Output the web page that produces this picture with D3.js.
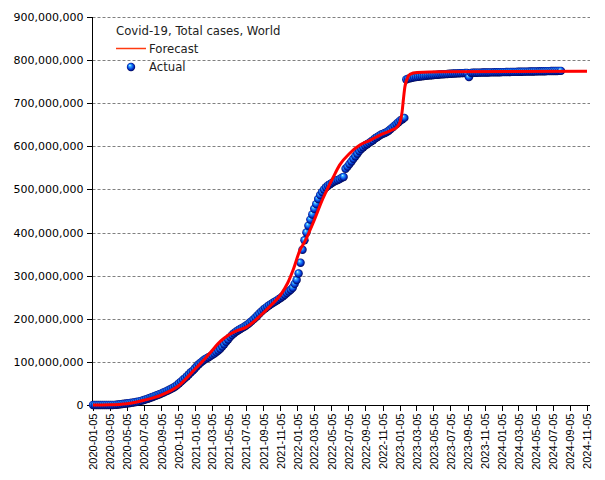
<!DOCTYPE html>
<html>
<head>
<meta charset="utf-8">
<script src="https://cdn.jsdelivr.net/npm/d3@7"></script>
<style>
  body { margin: 0; background: #fff; }
  svg { display: block; }
</style>
</head>
<body>
<svg id="chart" width="605" height="480"></svg>
<script>
// ---------------------------------------------
// Data (values in millions of cases)
// ---------------------------------------------

let chartTitle = 'Covid-19, Total cases, World';
let seriesNames = ['Forecast', 'Actual'];

// Weekly reported totals, one value per week starting 2020-01-05
let actualStart = '2020-01-05';
let actualTotals = [
  // 2020
  0, 0, 0.001, 0.002, 0.015, 0.04, 0.07, 0.078, 0.088, 0.11, 0.17, 0.34, 0.72,
  1.27, 1.85, 2.4, 2.97, 3.5, 4.1, 4.7, 5.4, 6.2, 7.0, 7.9, 9.0, 10.2,
  11.5, 13.0, 14.6, 16.3, 18.0, 19.8, 21.6, 23.3, 25.1, 27.0, 29.0, 31.0, 33.2,
  35.3, 37.6, 40.1, 43.0, 46.4, 50.3, 54.3, 58.4, 62.4, 66.8, 71.2, 75.8, 79.7,
  // 2021
  84.5, 89.7, 94.4, 98.4, 102.1, 105.4, 108.2, 110.8, 113.4, 116.2, 119.2, 122.6, 126.4,
  130.6, 135.6, 140.9, 146.6, 152.1, 157.5, 162.2, 166.3, 169.9, 172.9, 175.9, 178.4, 181.1,
  183.9, 187.0, 190.7, 194.6, 198.7, 203.1, 207.7, 212.2, 216.7, 220.8, 224.6, 228.1, 231.3,
  234.2, 237.1, 239.9, 242.8, 245.8, 248.9, 252.2, 255.8, 259.6, 263.5, 267.5, 271.8, 281,
  // 2022
  290, 305, 330, 360, 382, 400, 416, 430, 442, 455, 466, 478, 487,
  494, 500, 505, 509, 512, 515, 518, 520, 522, 524, 527, 529, 548,
  553, 559, 565, 571, 577, 583, 589, 594, 598, 602, 605, 608, 611,
  614, 618, 621, 624, 627, 629, 631, 633, 636, 640, 644, 648, 652,
  // 2023
  656, 660, 663, 666, 755, 757, 758, 759, 760, 760.6, 761.2, 761.8, 762.4,
  763, 763.5, 764, 764.5, 765, 765.4, 765.8, 766.2, 766.6, 767, 767.3, 767.6, 767.9,
  768.2, 768.5, 768.8, 769.1, 769.3, 769.5, 769.7, 769.9, 770.1, 770.3, 760.5, 770.5, 770.6,
  770.7, 770.8, 770.9, 771, 771.1, 771.2, 771.3, 771.4, 771.5, 771.6, 771.7, 771.8, 771.9, 772,
  // 2024
  772.1, 772.2, 772.3, 772.4, 772.5, 772.6, 772.7, 772.8, 772.9, 773, 773.1, 773.2, 773.3,
  773.4, 773.5, 773.6, 773.7, 773.8, 773.9, 774, 774.1, 774.2, 774.3, 774.4, 774.5, 774.6,
  774.7, 774.8, 774.9, 775, 775.1
];

let forecastDates = [
  '2020-01-05', '2020-03-05', '2020-05-05', '2020-07-05', '2020-09-05', '2020-11-05',
  '2021-01-05', '2021-02-05', '2021-03-05', '2021-04-05', '2021-05-05', '2021-06-05',
  '2021-07-05', '2021-08-05', '2021-09-05', '2021-10-05', '2021-11-05', '2021-12-01',
  '2021-12-22', '2022-01-13', '2022-02-01', '2022-03-01', '2022-04-06', '2022-05-11',
  '2022-06-05', '2022-07-11', '2022-08-16', '2022-09-21', '2022-10-27', '2022-12-02',
  '2022-12-27', '2023-01-07', '2023-01-14', '2023-01-19', '2023-01-24', '2023-02-01',
  '2023-02-11', '2023-03-08', '2023-06-05', '2024-11-05'
];
let forecastTotals = [
  0, 0.5, 3, 11, 23, 44,
  84, 105, 126, 148, 163, 173,
  180, 195, 214, 233, 255, 283,
  316, 358, 380, 421, 479, 526,
  557, 584, 603, 614, 626, 636,
  645, 657, 680, 711, 738, 757,
  767, 771, 773, 774
];

let xTickLabels = [
  '2020-01-05', '2020-03-05', '2020-05-05', '2020-07-05', '2020-09-05', '2020-11-05',
  '2021-01-05', '2021-03-05', '2021-05-05', '2021-07-05', '2021-09-05', '2021-11-05',
  '2022-01-05', '2022-03-05', '2022-05-05', '2022-07-05', '2022-09-05', '2022-11-05',
  '2023-01-05', '2023-03-05', '2023-05-05', '2023-07-05', '2023-09-05', '2023-11-05',
  '2024-01-05', '2024-03-05', '2024-05-05', '2024-07-05', '2024-09-05', '2024-11-05'
];
let yTickValues = [0, 100, 200, 300, 400, 500, 600, 700, 800, 900];

// ---------------------------------------------
// Setup
// ---------------------------------------------

let parseDate = d3.timeParse('%Y-%m-%d');
let svg = d3.select('#chart');

let plot = {left: 92.5, right: 590, top: 17, bottom: 405};

let xTicks = xTickLabels.map(parseDate);
let scaleX = d3.scaleTime()
    .domain([xTicks[0], xTicks[xTicks.length - 1]])
    .range([93, 587]);

let scaleY = d3.scaleLinear()
    .domain([0, 900])
    .range([plot.bottom, plot.top]);

let start = parseDate(actualStart);
let actualPoints = actualTotals.map((v, i) => ({
  date: d3.timeDay.offset(start, 7 * i),
  value: v
}));
let forecastPoints = forecastDates.map((d, i) => ({
  date: parseDate(d),
  value: forecastTotals[i]
}));

// Sphere look for the markers
let defs = svg.append('defs');
let grad = defs.append('radialGradient')
    .attr('id', 'ball')
    .attr('cx', '50%').attr('cy', '50%').attr('r', '55%')
    .attr('fx', '35%').attr('fy', '28%');
grad.append('stop').attr('offset', '0%').attr('stop-color', '#e6ffff');
grad.append('stop').attr('offset', '22%').attr('stop-color', '#3cb6ff');
grad.append('stop').attr('offset', '55%').attr('stop-color', '#0a52ea');
grad.append('stop').attr('offset', '82%').attr('stop-color', '#00148c');
grad.append('stop').attr('offset', '100%').attr('stop-color', '#000030');

// ---------------------------------------------
// Grid and axes
// ---------------------------------------------

svg.append('g').selectAll('line')
    .data(yTickValues.filter((v) => v > 0))
    .join('line')
    .attr('x1', plot.left)
    .attr('x2', plot.right)
    .attr('y1', (v) => Math.round(scaleY(v)) + 0.5)
    .attr('y2', (v) => Math.round(scaleY(v)) + 0.5)
    .attr('stroke', '#808080')
    .attr('stroke-width', 1)
    .attr('stroke-dasharray', '3,2');

let yAxis = svg.append('g')
    .attr('transform', 'translate(' + plot.left + ',0)')
    .call(d3.axisLeft(scaleY)
        .tickValues(yTickValues)
        .tickSize(6)
        .tickPadding(3)
        .tickFormat((v) => d3.format(',')(v * 1e6)));
yAxis.select('.domain').remove();
yAxis.selectAll('line')
    .attr('stroke', '#000')
    .attr('shape-rendering', 'crispEdges');
yAxis.selectAll('text')
    .attr('fill', '#000')
    .style('font-family', '"DejaVu Sans", sans-serif')
    .style('font-size', '11px');

let xAxis = svg.append('g')
    .attr('transform', 'translate(0,' + (plot.bottom + 0.5) + ')')
    .call(d3.axisBottom(scaleX)
        .tickValues(xTicks)
        .tickSize(5)
        .tickFormat(d3.timeFormat('%Y-%m-%d')));
xAxis.select('.domain').remove();
xAxis.selectAll('line')
    .attr('stroke', '#000')
    .attr('shape-rendering', 'crispEdges');
xAxis.selectAll('text')
    .attr('fill', '#000')
    .attr('transform', 'rotate(-90)')
    .attr('text-anchor', 'end')
    .attr('x', -8)
    .attr('y', 0)
    .attr('dy', '0.36em')
    .style('font-family', '"Liberation Sans", Arial, sans-serif')
    .style('font-size', '11px');

// Axis lines
svg.append('line')
    .attr('x1', plot.left).attr('x2', plot.left)
    .attr('y1', plot.top).attr('y2', plot.bottom + 1)
    .attr('stroke', '#000');
svg.append('line')
    .attr('x1', plot.left).attr('x2', plot.right)
    .attr('y1', plot.bottom + 0.5).attr('y2', plot.bottom + 0.5)
    .attr('stroke', '#000');

// ---------------------------------------------
// Series
// ---------------------------------------------

svg.append('g').selectAll('circle')
    .data(actualPoints)
    .join('circle')
    .attr('cx', (p) => scaleX(p.date))
    .attr('cy', (p) => scaleY(p.value))
    .attr('r', 4.2)
    .attr('fill', 'url(#ball)');

let forecastLine = d3.line()
    .x((p) => scaleX(p.date))
    .y((p) => scaleY(p.value))
    .curve(d3.curveMonotoneX);

svg.append('path')
    .datum(forecastPoints)
    .attr('d', forecastLine)
    .attr('fill', 'none')
    .attr('stroke', '#ff0000')
    .attr('stroke-width', 3);

// ---------------------------------------------
// Legend
// ---------------------------------------------

let legend = svg.append('g')
    .style('font-family', '"DejaVu Sans", sans-serif')
    .style('font-size', '11.7px')
    .attr('fill', '#222');

legend.append('text').attr('x', 116).attr('y', 34.5).text(chartTitle);
legend.append('line')
    .attr('x1', 116).attr('x2', 146)
    .attr('y1', 48.5).attr('y2', 48.5)
    .attr('stroke', '#ff3a10')
    .attr('stroke-width', 1.5);
legend.append('text').attr('x', 149).attr('y', 52.5).text(seriesNames[0]);
legend.append('circle')
    .attr('cx', 131).attr('cy', 67)
    .attr('r', 4.2)
    .attr('fill', 'url(#ball)');
legend.append('text').attr('x', 149).attr('y', 71).text(seriesNames[1]);
</script>
</body>
</html>
